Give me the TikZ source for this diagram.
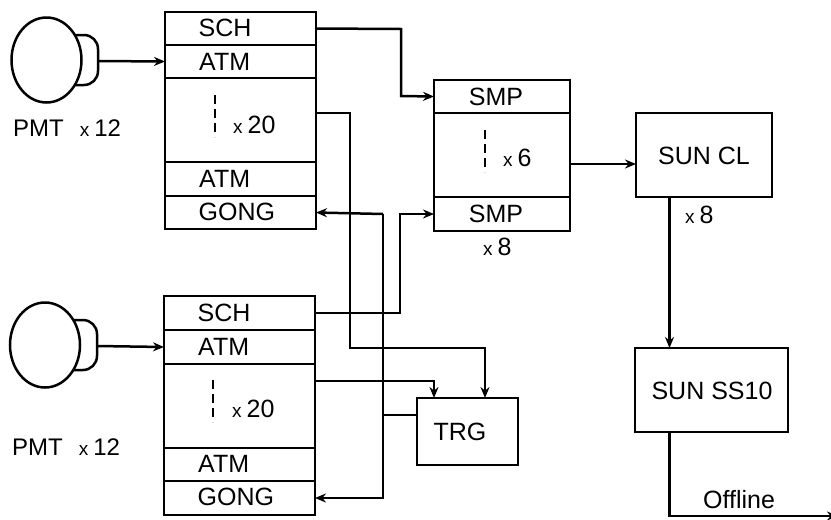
\documentclass[tikz,border=0pt]{standalone}
\usepackage{fontspec}
\setmainfont{Liberation Sans}
\usetikzlibrary{arrows.meta,shapes.geometric}
\newcommand{\mult}[1]{{\fontsize{19}{19}\selectfont x}\hspace{5pt}#1}
\tikzset{
  ln/.style={line width=2.5pt},
  cellbox/.style 2 args={draw,ln,anchor=north west,inner sep=0pt,outer sep=0pt,minimum width=#1pt,minimum height=#2pt},
  txt/.style={inner sep=0pt,font=\fontsize{25}{25}\selectfont},
  wire/.style={ln,line join=miter},
  arr/.style={wire,-{Stealth[length=11pt,width=9pt]}},
  dots/.style={line width=2.2pt,dash pattern=on 9pt off 5pt}
}
\begin{document}
\begin{tikzpicture}[x=1pt,y=-1pt]
\useasboundingbox (0,0) rectangle (831,520);
% PMT top
\draw[ln,rounded corners=14pt] (70,35) -- (98,35) -- (98,85) -- (70,85);
\node[draw,ln,fill=white,ellipse,inner sep=0pt,minimum width=70pt,minimum height=85pt] (pmtA) at (46.5,60) {};
\coordinate (pmtAout) at (98,61);
% PMT bottom
\draw[ln,rounded corners=14pt] (69,320) -- (97,320) -- (97,370) -- (69,370);
\node[draw,ln,fill=white,ellipse,inner sep=0pt,minimum width=70pt,minimum height=85pt] (pmtB) at (45,345) {};
\coordinate (pmtBout) at (97,346);
% top stack
\node[cellbox={151}{33}] (schA) at (165,12) {};
\node[cellbox={151}{33}] (atmA) at (165,45) {};
\node[cellbox={151}{84}] (midA) at (165,78) {};
\node[cellbox={151}{34}] (atmAb) at (165,162) {};
\node[cellbox={151}{33}] (gongA) at (165,196) {};
% bottom stack
\node[cellbox={151}{34}] (schB) at (164,296) {};
\node[cellbox={151}{34}] (atmB) at (164,330) {};
\node[cellbox={151}{84}] (midB) at (164,364) {};
\node[cellbox={151}{33}] (atmBb) at (164,448) {};
\node[cellbox={151}{34}] (gongB) at (164,481) {};
% SMP stack
\node[cellbox={136}{33}] (smpA) at (434,80) {};
\node[cellbox={136}{84}] (midS) at (434,113) {};
\node[cellbox={136}{34}] (smpB) at (434,197) {};
% right boxes
\node[cellbox={136}{84}] (cl) at (636,113) {};
\node[cellbox={153}{84}] (ss) at (635,348) {};
\node[cellbox={101}{67}] (trg) at (417,398) {};
% texts
\node[txt,anchor=west] (tSchA) at (198.5,28) {SCH};
\node[txt,anchor=west] (tAtmA) at (199,62) {ATM};
\node[txt,anchor=west] (tAtmAb) at (199,179) {ATM};
\node[txt,anchor=west] (tGongA) at (198.5,212) {GONG};
\node[txt,anchor=west] (tSchB) at (197.5,313) {SCH};
\node[txt,anchor=west] (tAtmB) at (198,347) {ATM};
\node[txt,anchor=west] (tAtmBb) at (198,464) {ATM};
\node[txt,anchor=west] (tGongB) at (197.5,497) {GONG};
\node[txt] (tSmpA) at (496,96.5) {SMP};
\node[txt] (tSmpB) at (496,214) {SMP};
\node[txt] (tCl) at (704,156) {SUN CL};
\node[txt] (tSs) at (712,391) {SUN SS10};
\node[txt] (tTrg) at (460,432) {TRG};
\node[txt,anchor=west] (tPmtA) at (13,128) {\fontsize{24}{24}\selectfont PMT\hspace{16pt}\mult{12}};
\node[txt,anchor=west] (tPmtB) at (12,447) {\fontsize{24}{24}\selectfont PMT\hspace{16pt}\mult{12}};
\node[txt,anchor=west] (tXa) at (233,125) {\mult{20}};
\node[txt,anchor=west] (tXb) at (232,409) {\mult{20}};
\node[txt,anchor=west] (tXs) at (503,158) {\mult{6}};
\node[txt,anchor=west] (tXsb) at (483,247) {\mult{8}};
\node[txt,anchor=west] (tXc) at (685,215) {\mult{8}};
\node[txt,anchor=base west] (tOff) at (703,508) {Offline};
% dashed marks
\coordinate (dA1) at (215,95); \coordinate (dA2) at (215,137);
\coordinate (dB1) at (213,380); \coordinate (dB2) at (213,422);
\coordinate (dS1) at (485,130); \coordinate (dS2) at (485,172);
\draw[dots] (dA1) -- (dA2);
\draw[dots] (dB1) -- (dB2);
\draw[dots] (dS1) -- (dS2);
% bend coordinates
\coordinate (a1) at (401,29);
\coordinate (a2) at (401,96);
\coordinate (b1) at (350,113);
\coordinate (b2) at (350,348);
\coordinate (b3) at (485,348);
\coordinate (g1) at (383,214);
\coordinate (g2) at (383,498);
\coordinate (g3) at (383,415);
\coordinate (c1) at (400,313);
\coordinate (c2) at (400,214);
\coordinate (d1) at (434,381);
\coordinate (s1) at (600,164);
\coordinate (e1) at (669.5,516);
\coordinate (e2) at (838,516);
% connectors
\draw[arr] (pmtAout) -- (atmA.west);
\draw[arr] (pmtBout) -- (atmB.west);
\draw[arr] (schA.east) -- (a1) -- (a2) -- (smpA.west);
\draw[arr] (midA.east |- b1) -- (b1) -- (b2) -- (b3) -- (trg.north -| b3);
\draw[arr] (g1) -- (gongA.east);
\draw[arr] (g1) -- (g2) -- (gongB.east);
\draw[wire] (trg.west |- g3) -- (g3);
\draw[arr] (schB.east) -- (c1) -- (c2) -- (smpB.west);
\draw[arr] (midB.east |- d1) -- (d1) -- (trg.north -| d1);
\draw[arr] (midS.east |- s1) -- (cl.west |- s1);
\draw[arr] (cl.south -| e1) -- (ss.north -| e1);
\draw[arr] (ss.south -| e1) -- (e1) -- (e2);
\end{tikzpicture}
\end{document}
